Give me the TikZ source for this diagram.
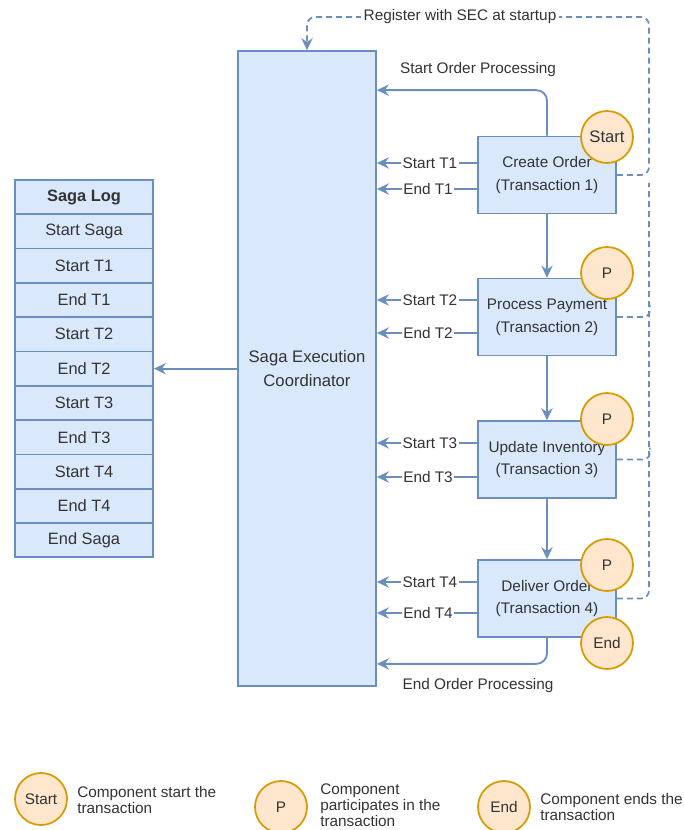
\documentclass[tikz,border=0pt]{standalone}
\usepackage{fontspec}
\setmainfont{Liberation Sans}
\usetikzlibrary{arrows.meta,calc}
\definecolor{bfill}{HTML}{DAE8FC}
\definecolor{bdraw}{HTML}{6C8EBF}
\definecolor{ofill}{HTML}{FFE6CC}
\definecolor{odraw}{HTML}{D79B00}
\definecolor{txt}{HTML}{333333}
\begin{document}
\begin{tikzpicture}[x=0.75pt,y=-0.75pt,
  font=\fontsize{11.5}{13.5}\selectfont, text=txt,
  box/.style={draw=bdraw, fill=bfill, line width=1.3pt, inner sep=0pt, align=center},
  txbox/.style={box, minimum width=103.5pt, minimum height=57.75pt, font=\fontsize{11.5}{17}\selectfont},
  logrow/.style={box, minimum width=103.5pt, minimum height=25.7pt, font=\fontsize{12.3}{14}\selectfont},
  role/.style={circle, draw=odraw, fill=ofill, line width=1.3pt, minimum size=39pt, inner sep=0pt},
  tip/.style={-{Stealth[length=9pt,width=8.5pt,inset=3pt]}},
  arr/.style={draw=bdraw, line width=1.4pt, tip},
  dashline/.style={draw=bdraw, line width=1.3pt, dash pattern=on 4.5pt off 3pt},
  lbl/.style={fill=white, inner sep=1pt},
  legtxt/.style={anchor=west, align=left, inner sep=0pt, font=\fontsize{11.5}{12}\selectfont}]
\useasboundingbox (0,0) rectangle (683,830);

% Saga Execution Coordinator
\node[box, minimum width=103.5pt, minimum height=476.25pt, font=\fontsize{12.5}{18}\selectfont] (sec) at (307,368.5) {Saga Execution\\Coordinator};

% Saga log
\node[logrow, font=\fontsize{12.3}{14}\selectfont\bfseries] (l0) at (84,197.15) {Saga Log};
\node[logrow] (l1) at (84,231.45) {Start Saga};
\node[logrow] (l2) at (84,265.75) {Start T1};
\node[logrow] (l3) at (84,300.05) {End T1};
\node[logrow] (l4) at (84,334.35) {Start T2};
\node[logrow] (l5) at (84,368.65) {End T2};
\node[logrow] (l6) at (84,402.95) {Start T3};
\node[logrow] (l7) at (84,437.25) {End T3};
\node[logrow] (l8) at (84,471.55) {Start T4};
\node[logrow] (l9) at (84,505.85) {End T4};
\node[logrow] (l10) at (84,540.15) {End Saga};

\draw[arr] (sec.west |- l5.east) -- (l5.east);

% Transactions
\node[txbox] (t1) at (547,175) {Create Order\\(Transaction 1)};
\node[txbox] (t2) at (547,317) {Process Payment\\(Transaction 2)};
\node[txbox] (t3) at (547,459.5) {Update Inventory\\(Transaction 3)};
\node[txbox] (t4) at (547,598.5) {Deliver Order\\(Transaction 4)};

\draw[arr] (t1) -- (t2);
\draw[arr] (t2) -- (t3);
\draw[arr] (t3) -- (t4);

% start / end order processing
\draw[arr, rounded corners=8pt] (t1.north) |- ($(sec.north east)+(0,40)$);
\node (sop) at (478,70) {Start Order Processing};
\draw[arr, rounded corners=8pt] (t4.south) |- ($(sec.south east)+(0,-23)$);
\node (eop) at (478,686) {End Order Processing};

% Start/End Ti arrows
\foreach \t/\ys/\ye/\n in {t1/163/189/1, t2/300/333/2, t3/443/477/3, t4/582/613/4}{
  \draw[arr] (\t.west |- 0,\ys) -- (sec.east |- 0,\ys);
  \draw[arr] (\t.west |- 0,\ye) -- (sec.east |- 0,\ye);
  \node[lbl] at (430,\ys) {Start T\n};
  \node[lbl] at (428,\ye) {End T\n};
}

% Register with SEC (dashed)
\draw[dashline, rounded corners=6pt, tip]
  (t1.east) -- (649,175) -- (649,17) -- (307,17) -- (sec.north);
\node[lbl, inner sep=2pt] (reg) at (460,17) {Register with SEC at startup};
\draw[dashline, rounded corners=6pt] (t4.east) -- (649,598.5) -- (649,183);
\draw[dashline, rounded corners=5pt] (t2.east) -| ++(33,-12);
\draw[dashline, rounded corners=5pt] (t3.east) -| ++(33,-12);

% role circles
\node[role, font=\fontsize{12.5}{14}\selectfont] (c1) at (607,137) {Start};
\node[role] (c2) at (607,273) {P};
\node[role] (c3) at (607,419) {P};
\node[role] (c4) at (607,565) {P};
\node[role] (c5) at (607,643) {End};

% legend
\node[role] (ls) at (41,799) {Start};
\node[legtxt] (lst) at (77,800) {Component start the\\transaction};
\node[role] (lp) at (281,807) {P};
\node[legtxt] (lpt) at (320,805) {Component\\participates in the\\transaction};
\node[role] (le) at (504,807) {End};
\node[legtxt] (let) at (540,807) {Component ends the\\transaction};
\end{tikzpicture}
\end{document}
